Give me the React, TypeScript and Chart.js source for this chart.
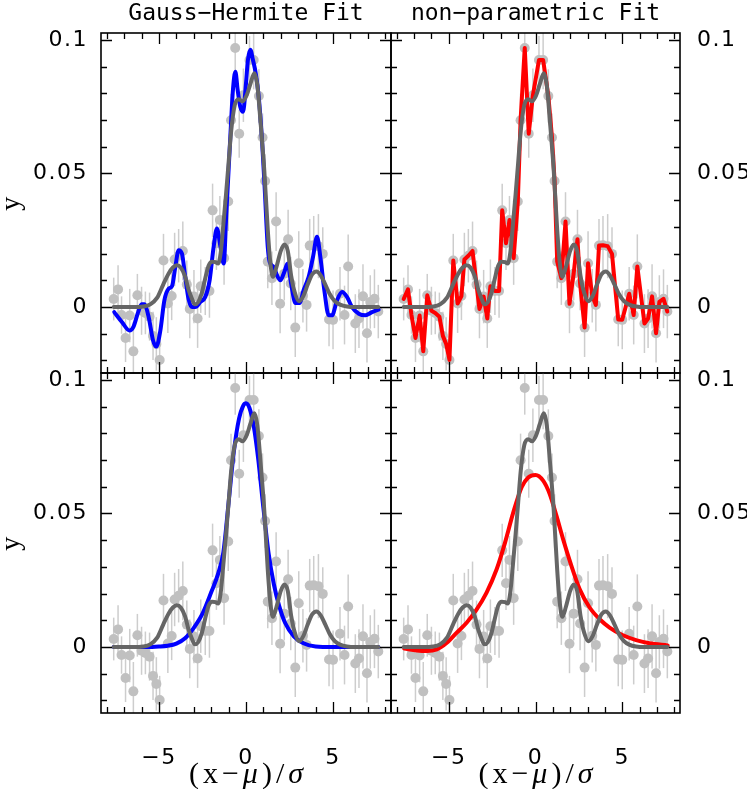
import React, { useEffect, useRef } from 'react';
import { Chart, registerables } from 'chart.js';

Chart.register(...registerables);

const W = 747;
const H = 789;

// observed binned data (grey points with error bars)
const obsX = [
  -7.60, -7.35, -7.15, -6.92, -6.68, -6.47, -6.24, -6.00, -5.78, -5.54,
  -5.34, -5.15, -4.96, -4.74, -4.49, -4.27, -4.10, -3.87, -3.63, -3.40,
  -3.23, -2.99, -2.78, -2.60, -2.34, -2.10, -1.92, -1.70, -1.50, -1.26,
  -1.02, -0.86, -0.62, -0.39, -0.15, 0.20, 0.44, 0.74, 0.95, 1.10,
  1.25, 1.49, 1.73, 1.96, 2.20, 2.42, 2.57, 2.83, 3.03, 3.27,
  3.48, 3.66, 3.89, 4.16, 4.41, 4.77, 5.00, 5.40, 5.66, 5.87,
  6.28, 6.49, 6.72, 6.95, 7.14, 7.38, 7.60,
];
const obsY = [
  0.0030, 0.0066, -0.0030, -0.0116, -0.0032, -0.0166, 0.0044, -0.0014, -0.0022, -0.0036,
  -0.0108, -0.0138, -0.0198, 0.0174, 0.0013, 0.0041, 0.0178, 0.0192, 0.0210, 0.0084,
  -0.0007, 0.0039, -0.0043, 0.0078, 0.0060, 0.0060, 0.0362, 0.0239, 0.0326, 0.0183,
  0.0395, 0.0699, 0.0970, 0.0649, 0.0793, 0.0925, 0.0925, 0.0790, 0.0635, 0.0472,
  0.0170, 0.0108, 0.0320, 0.0012, 0.0125, 0.0254, 0.0088, -0.0077, 0.0164, 0.0042,
  0.0008, 0.0230, 0.0231, 0.0228, 0.0199, -0.0047, -0.0048, 0.0050, -0.0030, 0.0152,
  -0.0062, -0.0043, 0.0040, -0.0098, 0.0019, 0.0031, -0.0017,
];
const obsErr = [
  0.008, 0.009, 0.007, 0.009, 0.010, 0.011, 0.008, 0.009, 0.008, 0.009,
  0.009, 0.010, 0.009, 0.010, 0.011, 0.009, 0.010, 0.010, 0.011, 0.009,
  0.011, 0.010, 0.011, 0.010, 0.009, 0.010, 0.010, 0.010, 0.009, 0.010,
  0.011, 0.010, 0.010, 0.009, 0.010, 0.009, 0.011, 0.010, 0.009, 0.010,
  0.010, 0.010, 0.011, 0.011, 0.010, 0.011, 0.010, 0.011, 0.012, 0.010,
  0.010, 0.010, 0.011, 0.012, 0.010, 0.010, 0.011, 0.010, 0.011, 0.012,
  0.011, 0.011, 0.012, 0.011, 0.010, 0.011, 0.010,
];

// grey reference model (same in all panels)
const modelX = [
  -7.6, -6.5, -5.9, -5.5, -5.1, -4.75, -4.45, -4.2, -3.97, -3.75,
  -3.5, -3.3, -3.1, -2.95, -2.75, -2.55, -2.35, -2.15, -1.95, -1.75,
  -1.6, -1.45, -1.3, -1.15, -1.0, -0.85, -0.65, -0.42, -0.2, 0.05,
  0.25, 0.48, 0.65, 0.85, 1.05, 1.25, 1.4, 1.55, 1.75, 2.0,
  2.2, 2.4, 2.6, 2.8, 3.05, 3.3, 3.55, 3.8, 4.05, 4.3,
  4.55, 4.8, 5.1, 5.4, 5.8, 6.3, 7.6,
];
const modelY = [
  0, 0, 0.0002, 0.001, 0.0035, 0.0085, 0.0125, 0.0148, 0.0156, 0.0148,
  0.0115, 0.0065, 0.003, 0.001, 0.0018, 0.005, 0.0105, 0.0155, 0.017, 0.0168,
  0.0163, 0.0205, 0.031, 0.042, 0.054, 0.066, 0.0755, 0.0778, 0.077, 0.0795,
  0.0835, 0.0875, 0.083, 0.068, 0.0513, 0.029, 0.0165, 0.0113, 0.015, 0.021,
  0.0234, 0.021, 0.0115, 0.0055, 0.0022, 0.0042, 0.0085, 0.0122, 0.0133, 0.0118,
  0.0085, 0.005, 0.0022, 0.0009, 0.0002, 0, 0,
];

// Gauss-Hermite fit, high order (top left)
const ghHighX = [
  -7.57, -7.13, -6.69, -6.46, -6.2, -6.0, -5.84, -5.59, -5.34, -5.15,
  -4.92, -4.69, -4.44, -4.25, -4.06, -3.87, -3.68, -3.49, -3.3, -3.1,
  -2.91, -2.62, -2.34, -2.09, -1.86, -1.67, -1.48, -1.28, -1.13, -0.9,
  -0.75, -0.61, -0.48, -0.33, -0.17, 0, 0.11, 0.25, 0.4, 0.56,
  0.73, 0.92, 1.07, 1.25, 1.36, 1.59, 1.78, 1.97, 2.2, 2.39,
  2.59, 2.84, 3.08, 3.31, 3.6, 3.85, 4.08, 4.27, 4.5, 4.75,
  4.94, 5.23, 5.52, 5.8, 6.09, 6.48, 6.86, 7.24, 7.62,
];
const ghHighY = [
  -0.0019, -0.0056, -0.0088, -0.0073, -0.002, 0.001, 0.001, -0.0038, -0.0125, -0.0148,
  -0.0088, 0.0025, 0.0069, 0.0078, 0.015, 0.0213, 0.02, 0.0113, 0.003, 0.0,
  0.0, 0.0019, 0.0038, 0.01, 0.0225, 0.0294, 0.0231, 0.0163, 0.035, 0.0638,
  0.0813, 0.0881, 0.0813, 0.075, 0.0731, 0.0838, 0.0925, 0.0963, 0.0925, 0.0875,
  0.0788, 0.0625, 0.045, 0.0225, 0.0169, 0.015, 0.0119, 0.01, 0.0131, 0.0163,
  0.0088, 0.0015, 0.0015, 0.0063, 0.0113, 0.0188, 0.0263, 0.0188, 0.0063, -0.0031,
  -0.0031, 0.0025, 0.0056, 0.0038, 0.0, -0.0025, -0.0031, -0.0019, -0.001,
];

// Gauss-Hermite fit, low order (bottom left)
const ghLowX = [
  -7.6, -5.7, -5.0, -4.5, -4.0, -3.5, -3.0, -2.5, -2.0, -1.6,
  -1.3, -1.0, -0.7, -0.4, -0.15, 0, 0.2, 0.45, 0.7, 1.0,
  1.3, 1.6, 1.9, 2.25, 2.75, 3.3, 4.0, 5.0, 7.6,
];
const ghLowY = [
  0, 0, 0.0002, 0.0005, 0.0013, 0.0033, 0.0072, 0.0125, 0.0205, 0.0275,
  0.0355, 0.054, 0.073, 0.0855, 0.0905, 0.0913, 0.0895, 0.0825, 0.0705, 0.052,
  0.035, 0.0235, 0.0155, 0.009, 0.004, 0.0014, 0.0002, 0, 0,
];

// non-parametric smooth fit (bottom right)
const npSmoothX = [
  -7.57, -6.84, -6.26, -5.69, -5.11, -4.54, -3.97, -3.39, -2.82, -2.24,
  -1.76, -1.28, -0.8, -0.42, 0, 0.44, 0.82, 1.21, 1.59, 2.07,
  2.55, 3.12, 3.7, 4.27, 5.04, 5.8, 6.57, 7.62,
];
const npSmoothY = [
  -0.0006, -0.0013, -0.0015, -0.0009, 0.0016, 0.0054, 0.0091, 0.0141, 0.0204, 0.0291,
  0.039, 0.0504, 0.0598, 0.0635, 0.0644, 0.0623, 0.0573, 0.0491, 0.0404, 0.0304,
  0.0216, 0.0148, 0.0104, 0.0073, 0.0044, 0.0026, 0.0014, 0.0006,
];

const xTickValues = [-5, 0, 5];
const xTickLabels = ['\u22125', '0', '5'];
const yTickValues = [0, 0.05, 0.1];
const yTickLabels = ['0', '0.05', '0.1'];
const xMinorTicks = [-8, -7, -6, -5, -4, -3, -2, -1, 0, 1, 2, 3, 4, 5, 6, 7, 8];
const yMinorTicks = [-0.02, -0.01, 0, 0.01, 0.02, 0.03, 0.04, 0.05, 0.06, 0.07, 0.08, 0.09, 0.1];
const columnTitles = ['Gauss\u2212Hermite Fit', 'non\u2212parametric Fit'];
// x-axis title pieces: [text, italic]
const xTitleParts: [string, boolean][] = [['(x\u2212', false], ['\u03bc', true], [')/', false], ['\u03c3', true]];
const yTitle = 'y';

const X_MIN = -8.33;
const X_MAX = 8.33;
const Y_MIN = -0.0247;
const Y_MAX = 0.1026;

type Panel = {
  left: number; top: number; right: number; bottom: number;
  yPos: 'left' | 'right';
  showX: boolean;
  fitX: number[]; fitY: number[];
  fitColor: string;
  smooth: boolean;
  title?: string;
};

const panels: Panel[] = [
  { left: 101, top: 33, right: 391, bottom: 373, yPos: 'left', showX: false, fitX: ghHighX, fitY: ghHighY, fitColor: '#0000ff', smooth: true, title: columnTitles[0] },
  { left: 391, top: 33, right: 680, bottom: 373, yPos: 'right', showX: false, fitX: obsX, fitY: obsY, fitColor: '#ff0000', smooth: false, title: columnTitles[1] },
  { left: 101, top: 373, right: 391, bottom: 713, yPos: 'left', showX: true, fitX: ghLowX, fitY: ghLowY, fitColor: '#0000ff', smooth: true },
  { left: 391, top: 373, right: 680, bottom: 713, yPos: 'right', showX: true, fitX: npSmoothX, fitY: npSmoothY, fitColor: '#ff0000', smooth: true },
];

const pts = (xs: number[], ys: number[]) => xs.map((x, i) => ({ x, y: ys[i] }));

const spacingPlugin = {
  id: 'spacing',
  beforeDraw(chart: any) { chart.ctx.letterSpacing = '1.5px'; },
  afterDraw(chart: any) { chart.ctx.letterSpacing = '0px'; },
};

const errorBarPlugin = {
  id: 'errorBars',
  beforeDatasetsDraw(chart: any) {
    const { ctx, chartArea: a, scales } = chart;
    const xs = scales.x;
    const ys = scales.y;
    ctx.save();
    ctx.beginPath();
    ctx.rect(a.left, a.top, a.right - a.left, a.bottom - a.top);
    ctx.clip();
    ctx.strokeStyle = '#cdcdcd';
    ctx.lineWidth = 1.5;
    for (let i = 0; i < obsX.length; i++) {
      const px = xs.getPixelForValue(obsX[i]);
      const y1 = ys.getPixelForValue(obsY[i] - obsErr[i]);
      const y2 = ys.getPixelForValue(obsY[i] + obsErr[i]);
      ctx.beginPath();
      ctx.moveTo(px, y1);
      ctx.lineTo(px, y2);
      ctx.stroke();
    }
    ctx.restore();
  },
};

const framePlugin = {
  id: 'frame',
  afterDraw(chart: any) {
    const { ctx, chartArea: a, scales } = chart;
    const xs = scales.x;
    const ys = scales.y;
    ctx.save();
    ctx.strokeStyle = '#000';
    ctx.lineWidth = 1.3;
    ctx.beginPath();
    for (const v of xMinorTicks) {
      const len = xTickValues.includes(v) ? 11 : 6;
      const px = Math.round(xs.getPixelForValue(v)) + 0.5;
      ctx.moveTo(px, a.bottom); ctx.lineTo(px, a.bottom - len);
      ctx.moveTo(px, a.top); ctx.lineTo(px, a.top + len);
    }
    for (const v of yMinorTicks) {
      const len = yTickValues.some((t) => Math.abs(t - v) < 1e-9) ? 11 : 6;
      const py = Math.round(ys.getPixelForValue(v)) + 0.5;
      ctx.moveTo(a.left, py); ctx.lineTo(a.left + len, py);
      ctx.moveTo(a.right, py); ctx.lineTo(a.right - len, py);
    }
    ctx.stroke();
    ctx.lineWidth = 1.6;
    ctx.strokeRect(a.left, a.top, a.right - a.left, a.bottom - a.top);
    ctx.restore();
  },
};

function makeChart(canvas: HTMLCanvasElement, p: Panel) {
  const textPlugin = {
    id: 'panelText',
    afterDraw(chart: any) {
      const { ctx, chartArea: a } = chart;
      const cx = (a.left + a.right) / 2;
      ctx.save();
      ctx.fillStyle = '#000';
      ctx.letterSpacing = '0px';
      if (p.title) {
        ctx.font = '23px "DejaVu Sans Mono"';
        ctx.textAlign = 'center';
        ctx.textBaseline = 'middle';
        ctx.fillText(p.title, cx, 14);
      }
      if (p.showX) {
        ctx.letterSpacing = '4px';
        ctx.textBaseline = 'alphabetic';
        ctx.textAlign = 'left';
        const fontFor = (it: boolean) => (it ? 'italic ' : '') + '30px "Liberation Serif"';
        let total = 0;
        for (const [t, it] of xTitleParts) { ctx.font = fontFor(it); total += ctx.measureText(t).width; }
        let x = cx - total / 2 + 2;
        for (const [t, it] of xTitleParts) {
          ctx.font = fontFor(it);
          ctx.fillText(t, x, 783);
          x += ctx.measureText(t).width;
        }
      }
      ctx.restore();
    },
  };
  const tickFont = { family: '"DejaVu Sans"', size: 22 };
  return new Chart(canvas, {
    type: 'scatter',
    data: {
      datasets: [
        {
          type: 'scatter',
          data: pts(obsX, obsY),
          pointRadius: 5,
          pointBackgroundColor: '#c0c0c0',
          pointBorderWidth: 0,
          pointBorderColor: '#c0c0c0',
          order: 3,
          clip: 0,
        } as any,
        {
          type: 'line',
          data: pts(p.fitX, p.fitY),
          borderColor: p.fitColor,
          borderWidth: 4,
          pointRadius: 0,
          showLine: true,
          tension: 0,
          cubicInterpolationMode: p.smooth ? 'monotone' : 'default',
          borderJoinStyle: 'round',
          borderCapStyle: 'round',
          order: 2,
          clip: 0,
        } as any,
        {
          type: 'line',
          data: pts(modelX, modelY),
          borderColor: '#666666',
          borderWidth: 4,
          pointRadius: 0,
          showLine: true,
          cubicInterpolationMode: 'monotone',
          borderJoinStyle: 'round',
          borderCapStyle: 'round',
          order: 1,
          clip: 0,
        } as any,
      ],
    },
    options: {
      responsive: false,
      animation: false,
      devicePixelRatio: 1,
      events: [],
      layout: {
        padding: {
          left: p.yPos === 'left' ? 0 : p.left,
          right: p.yPos === 'right' ? 0 : W - p.right,
          top: p.top,
          bottom: p.showX ? 0 : H - p.bottom,
        },
      },
      plugins: {
        legend: { display: false },
        tooltip: { enabled: false },
        title: { display: false },
      },
      scales: {
        x: {
          type: 'linear',
          position: 'bottom',
          min: X_MIN,
          max: X_MAX,
          display: p.showX,
          grid: { display: false, drawTicks: false },
          border: { display: false },
          afterBuildTicks: (s: any) => { s.ticks = xTickValues.map((v) => ({ value: v })); },
          afterFit: (s: any) => { s.height = p.showX ? H - p.bottom : 0; },
          ticks: {
            autoSkip: false,
            maxRotation: 0,
            color: '#000',
            font: tickFont,
            padding: 32,
            callback: (v: any) => xTickLabels[xTickValues.indexOf(Number(v))] ?? '',
          },
          title: { display: false },
        },
        y: {
          type: 'linear',
          position: p.yPos,
          min: Y_MIN,
          max: Y_MAX,
          grid: { display: false, drawTicks: false },
          border: { display: false },
          afterBuildTicks: (s: any) => { s.ticks = yTickValues.map((v) => ({ value: v })); },
          afterFit: (s: any) => { s.width = p.yPos === 'left' ? p.left : W - p.right; },
          ticks: {
            autoSkip: false,
            color: '#000',
            font: tickFont,
            padding: p.yPos === 'left' ? 13 : 17,
            callback: (v: any) => {
              const i = yTickValues.findIndex((t) => Math.abs(t - Number(v)) < 1e-9);
              return i >= 0 ? yTickLabels[i] : '';
            },
          },
          title: {
            display: p.yPos === 'left',
            text: yTitle,
            color: '#000',
            font: { family: '"Liberation Serif"', size: 28, lineHeight: 0.85 },
            padding: 0,
          },
        },
      },
    } as any,
    plugins: [spacingPlugin, errorBarPlugin, framePlugin, textPlugin],
  });
}

export default function App() {
  const refs = useRef<(HTMLCanvasElement | null)[]>([]);
  useEffect(() => {
    const charts = panels.map((p, i) => makeChart(refs.current[i] as HTMLCanvasElement, p));
    return () => charts.forEach((c) => c.destroy());
  }, []);
  return (
    <div style={{ position: 'absolute', left: 0, top: 0, width: W, height: H, background: '#fff', overflow: 'hidden' }}>
      {panels.map((_, i) => (
        <canvas
          key={i}
          ref={(el) => { refs.current[i] = el; }}
          width={W}
          height={H}
          style={{ position: 'absolute', left: 0, top: 0, width: W, height: H }}
        />
      ))}
    </div>
  );
}
